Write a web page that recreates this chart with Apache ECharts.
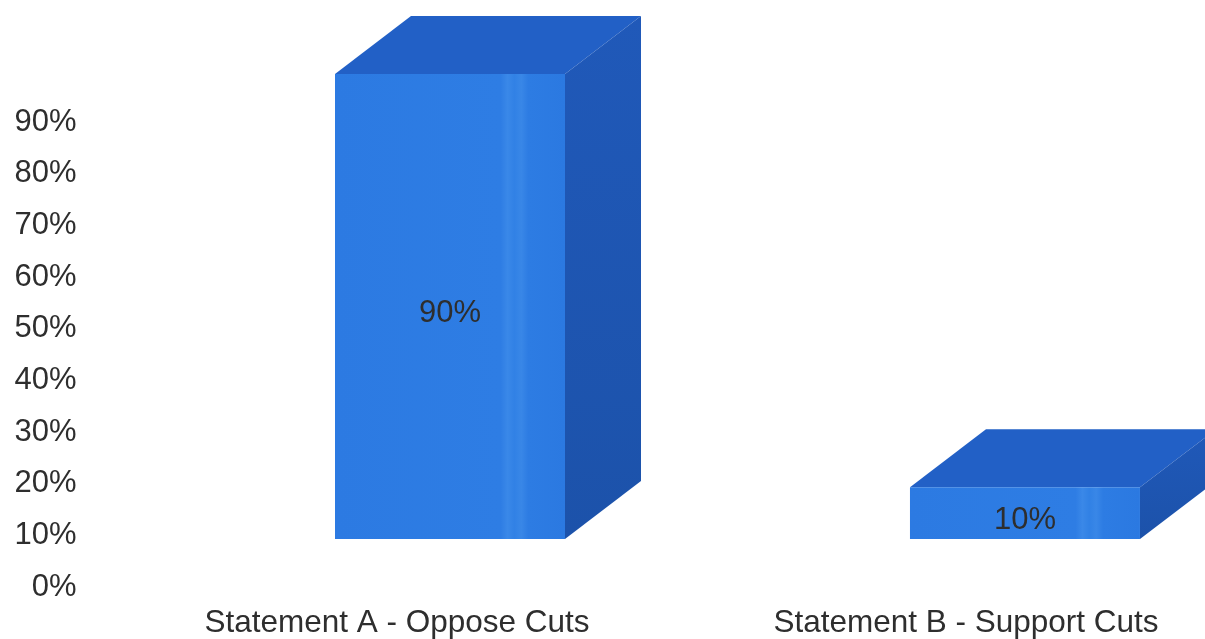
<!DOCTYPE html>
<html>
<head>
<meta charset="utf-8">
<script src="https://cdn.jsdelivr.net/npm/echarts@6/dist/echarts.min.js"></script>
<style>
  html, body { margin: 0; padding: 0; background: #ffffff; }
  #chart { width: 1205px; height: 639px; }
</style>
</head>
<body>
<div id="chart"></div>
<script>
// Survey result: share of respondents agreeing with each statement
const categories = ['Statement A - Oppose Cuts', 'Statement B - Support Cuts'];
const values = [90, 10];
const valueLabels = ['90%', '10%'];
const yTickValues = [0, 10, 20, 30, 40, 50, 60, 70, 80, 90];

const FONT = '"Liberation Sans", Arial, Helvetica, sans-serif';
const TEXT_COLOR = '#2e2e2e';

// 3D box geometry (pixels)
const FACE_WIDTH = 230;     // width of the front face
const DEPTH_X = 76;         // receding depth, horizontal
const DEPTH_Y = -58;        // receding depth, vertical
const FLOOR_LIFT = 48;      // front faces stand in front of the back wall
const FRONT_SHIFT = -62;    // front face left edge relative to category centre
const PERSPECTIVE = 0.0105; // slight horizontal drift across the floor

const frontFill = new echarts.graphic.LinearGradient(0, 0, 1, 0, [
  { offset: 0, color: '#2c7ae2' },
  { offset: 0.72, color: '#2e7de4' },
  { offset: 0.75, color: '#3a88e8' },
  { offset: 0.78, color: '#3181e5' },
  { offset: 0.81, color: '#3987e7' },
  { offset: 0.84, color: '#2d7ce3' },
  { offset: 1, color: '#2b79e1' }
]);
const topFill = '#2260c6';
const sideFill = new echarts.graphic.LinearGradient(0, 0, 0, 1, [
  { offset: 0, color: '#2059b9' },
  { offset: 1, color: '#1c52aa' }
]);

function renderBox(params, api) {
  const idx = api.value(0);
  const v = api.value(1);
  const base = api.coord([idx, 0]);
  const top = api.coord([idx, v]);
  const x0 = base[0] + FRONT_SHIFT + (base[0] - 397) * PERSPECTIVE;
  const x1 = x0 + FACE_WIDTH;
  const yBot = base[1] - FLOOR_LIFT;
  const yTop = top[1] - FLOOR_LIFT;

  return {
    type: 'group',
    children: [
      {
        type: 'polygon',
        shape: { points: [[x0, yTop], [x1, yTop], [x1 + DEPTH_X, yTop + DEPTH_Y], [x0 + DEPTH_X, yTop + DEPTH_Y]] },
        style: { fill: topFill }
      },
      {
        type: 'polygon',
        shape: { points: [[x1, yTop], [x1 + DEPTH_X, yTop + DEPTH_Y], [x1 + DEPTH_X, yBot + DEPTH_Y], [x1, yBot]] },
        style: { fill: sideFill }
      },
      {
        type: 'rect',
        shape: { x: x0, y: yTop, width: FACE_WIDTH, height: yBot - yTop },
        style: { fill: frontFill }
      },
      {
        type: 'text',
        style: {
          text: valueLabels[params.dataIndex],
          x: (x0 + x1) / 2,
          y: (yTop + yBot) / 2 + 7,
          align: 'center',
          verticalAlign: 'middle',
          font: '31px ' + FONT,
          fill: TEXT_COLOR
        }
      }
    ]
  };
}

const chart = echarts.init(document.getElementById('chart'), null, { renderer: 'canvas' });
chart.setOption({
  animation: false,
  backgroundColor: '#ffffff',
  grid: { left: 112.5, width: 1138, top: 70.3, bottom: 52, outerBoundsMode: 'none', containLabel: false },
  xAxis: {
    type: 'category',
    data: categories,
    axisLine: { show: false },
    axisTick: { show: false },
    axisLabel: {
      margin: 20,
      fontSize: 31.5,
      fontFamily: FONT,
      color: TEXT_COLOR,
      interval: 0
    }
  },
  yAxis: {
    type: 'value',
    min: 0,
    max: 100,
    interval: 10,
    splitLine: { show: false },
    axisLine: { show: false },
    axisTick: { show: false },
    axisLabel: {
      margin: 36,
      fontSize: 31,
      fontFamily: FONT,
      color: TEXT_COLOR,
      padding: [12, 0, 0, 0],
      formatter: function (v) {
        return yTickValues.indexOf(v) >= 0 ? v + '%' : '';
      }
    }
  },
  series: [{
    type: 'custom',
    clip: false,
    renderItem: renderBox,
    data: values.map(function (v, i) { return [i, v]; })
  }]
});
</script>
</body>
</html>
